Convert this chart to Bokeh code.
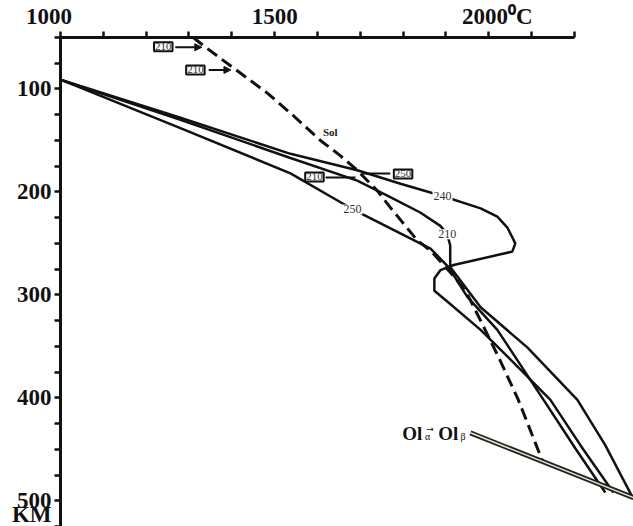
from bokeh.plotting import figure
from bokeh.models import Range1d, FixedTicker, Label, Arrow, NormalHead, AllLabels
from bokeh.embed import file_html
from bokeh.resources import INLINE

# ---- data (temperature in deg C, depth in km) ----
sol_T = [1310, 1334, 1402, 1483, 1544, 1607, 1654, 1693, 1740, 1770, 1833, 1864, 1910, 1946, 1981, 2027, 2069, 2125]
sol_D = [50, 58, 79, 104, 126, 150, 165, 179, 199, 215, 247, 257, 278, 296, 325, 364, 402, 461]

g240_T = [1000, 1280, 1537, 1693, 1794, 1892, 1981, 2020, 2044, 2062, 2055, 1918, 1887, 1873, 1873, 1899, 1981, 2044, 2144, 2214, 2291]
g240_D = [91, 128, 163, 179, 192, 204, 216, 224, 235, 250, 258, 271, 276, 284, 296, 305, 334, 360, 402, 446, 492]

g210_T = [1000, 1280, 1537, 1693, 1770, 1840, 1887, 1903, 1910, 1910, 1981, 2090, 2207, 2272, 2335]
g210_D = [91, 130, 167, 189, 205, 220, 233, 241, 252, 273, 312, 351, 402, 446, 496]

g250_T = [1000, 1280, 1537, 1658, 1707, 1864, 1906, 1950, 2020, 2074, 2128, 2202, 2272]
g250_D = [91, 138, 182, 211, 222, 255, 273, 302, 334, 368, 402, 449, 492]

olab_T = [1957, 2338]
olab_D = [434, 497]

NB = "\u00a0"
x_ticks = list(range(1000, 2201, 100))
x_labels = {1000: "1000" + NB * 4, 1500: "1500", 2000: NB * 3 + "2000\u2070C"}
y_major = [100, 200, 300, 400, 500, 515]
y_minor = list(range(50, 526, 25))
y_labels = {100: "100", 200: "200", 300: "300", 400: "400", 500: "500", 515: "KM"}

# curve labels: (text, T, D)
curve_labels = [("240", 1892, 204), ("250", 1682, 217), ("210", 1903, 241)]
# boxed labels: (text, T, D)
box_labels = [("210", 1240, 59), ("210", 1315, 81.5), ("210", 1593, 185.5), ("250", 1800, 182.5)]
# leaders: (T0, D0, T1, D1, arrow?)
leaders = [(1268, 59.5, 1330, 59.5, True), (1346, 81.5, 1398, 81.5, True),
           (1619, 186, 1689, 186, False), (1770, 182, 1705, 182, False)]

SERIF = "Liberation Serif"

p = figure(width=633, height=526, x_range=Range1d(1000, 2338), y_range=Range1d(525, 50),
           x_axis_location="above", output_backend="svg", toolbar_location=None,
           min_border_left=60, min_border_top=37, min_border_right=0, min_border_bottom=0)
p.grid.visible = False
p.outline_line_color = None
p.background_fill_color = "white"
p.border_fill_color = "white"

for ax in (p.xaxis[0], p.yaxis[0]):
    ax.axis_line_width = 3
    ax.axis_line_color = "#111111"
    ax.major_label_text_font = SERIF
    ax.major_label_text_font_style = "bold"
    ax.major_label_text_font_size = "23px"
    ax.major_label_text_color = "#111111"
    ax.major_label_standoff = 3
    ax.major_label_policy = AllLabels()

xa = p.xaxis[0]
xa.ticker = FixedTicker(ticks=x_ticks)
xa.major_label_overrides = {t: x_labels.get(t, "") for t in x_ticks}
xa.bounds = (1000, 2200)
xa.major_tick_line_width = 2.5
xa.major_tick_line_color = "#111111"
xa.major_tick_out = 6
xa.major_tick_in = 0
xa.minor_tick_line_color = None

ya = p.yaxis[0]
ya.ticker = FixedTicker(ticks=y_major, minor_ticks=y_minor)
ya.major_label_overrides = y_labels
ya.bounds = (50, 525)
ya.major_tick_line_color = None
ya.major_tick_out = 6
ya.major_tick_in = 0
ya.minor_tick_line_color = "#111111"
ya.minor_tick_line_width = 2.5
ya.minor_tick_out = 6
ya.minor_tick_in = 0

# curves
p.line(g250_T, g250_D, line_width=2.5, color="#111111")
p.line(g210_T, g210_D, line_width=2.5, color="#111111")
p.line(g240_T, g240_D, line_width=2.5, color="#111111")
p.line(sol_T, sol_D, line_width=3, color="#111111", line_dash="12 6")
p.line(olab_T, olab_D, line_width=5, color="#222222")
p.line(olab_T, olab_D, line_width=1.5, color="#e6e6cc")

for txt, t, d in curve_labels:
    p.add_layout(Label(x=t, y=d, text=txt, text_align="center", text_baseline="middle",
                       text_font=SERIF, text_font_size="12px", text_color="#333333",
                       background_fill_color="white", padding=1))

for t0, d0, t1, d1, arr in leaders:
    p.add_layout(Arrow(x_start=t0, y_start=d0, x_end=t1, y_end=d1, line_width=2, line_color="#111111",
                       end=NormalHead(size=7, fill_color="#111111", line_color="#111111") if arr else None))

for txt, t, d in box_labels:
    p.add_layout(Label(x=t, y=d, text=txt, text_align="center", text_baseline="middle",
                       text_font=SERIF, text_font_size="11px", text_color="#333333",
                       background_fill_color="#f6fbf3", border_line_color="#111111",
                       border_line_width=2, padding=1))

p.add_layout(Label(x=1630, y=142, text="Sol", text_align="center", text_baseline="middle",
                   text_font=SERIF, text_font_style="bold", text_font_size="11px", text_color="#222222"))

# Ol alpha - Ol beta label
p.add_layout(Label(x=1798, y=434.5, text="Ol", text_font=SERIF, text_font_style="bold",
                   text_font_size="19px", text_baseline="alphabetic", text_color="#111111"))
p.add_layout(Label(x=1851, y=438, text="α", text_font=SERIF, text_font_size="10px",
                   text_baseline="alphabetic", text_color="#111111"))
p.add_layout(Label(x=1854, y=430, text="→", text_font="DejaVu Sans", text_font_size="9px",
                   text_baseline="alphabetic", text_color="#111111"))
p.add_layout(Label(x=1882, y=434.5, text="Ol", text_font=SERIF, text_font_style="bold",
                   text_font_size="19px", text_baseline="alphabetic", text_color="#111111"))
p.add_layout(Label(x=1934, y=438, text="β", text_font=SERIF, text_font_size="10px",
                   text_baseline="alphabetic", text_color="#111111"))

open("out.html", "w").write(file_html(p, INLINE))
